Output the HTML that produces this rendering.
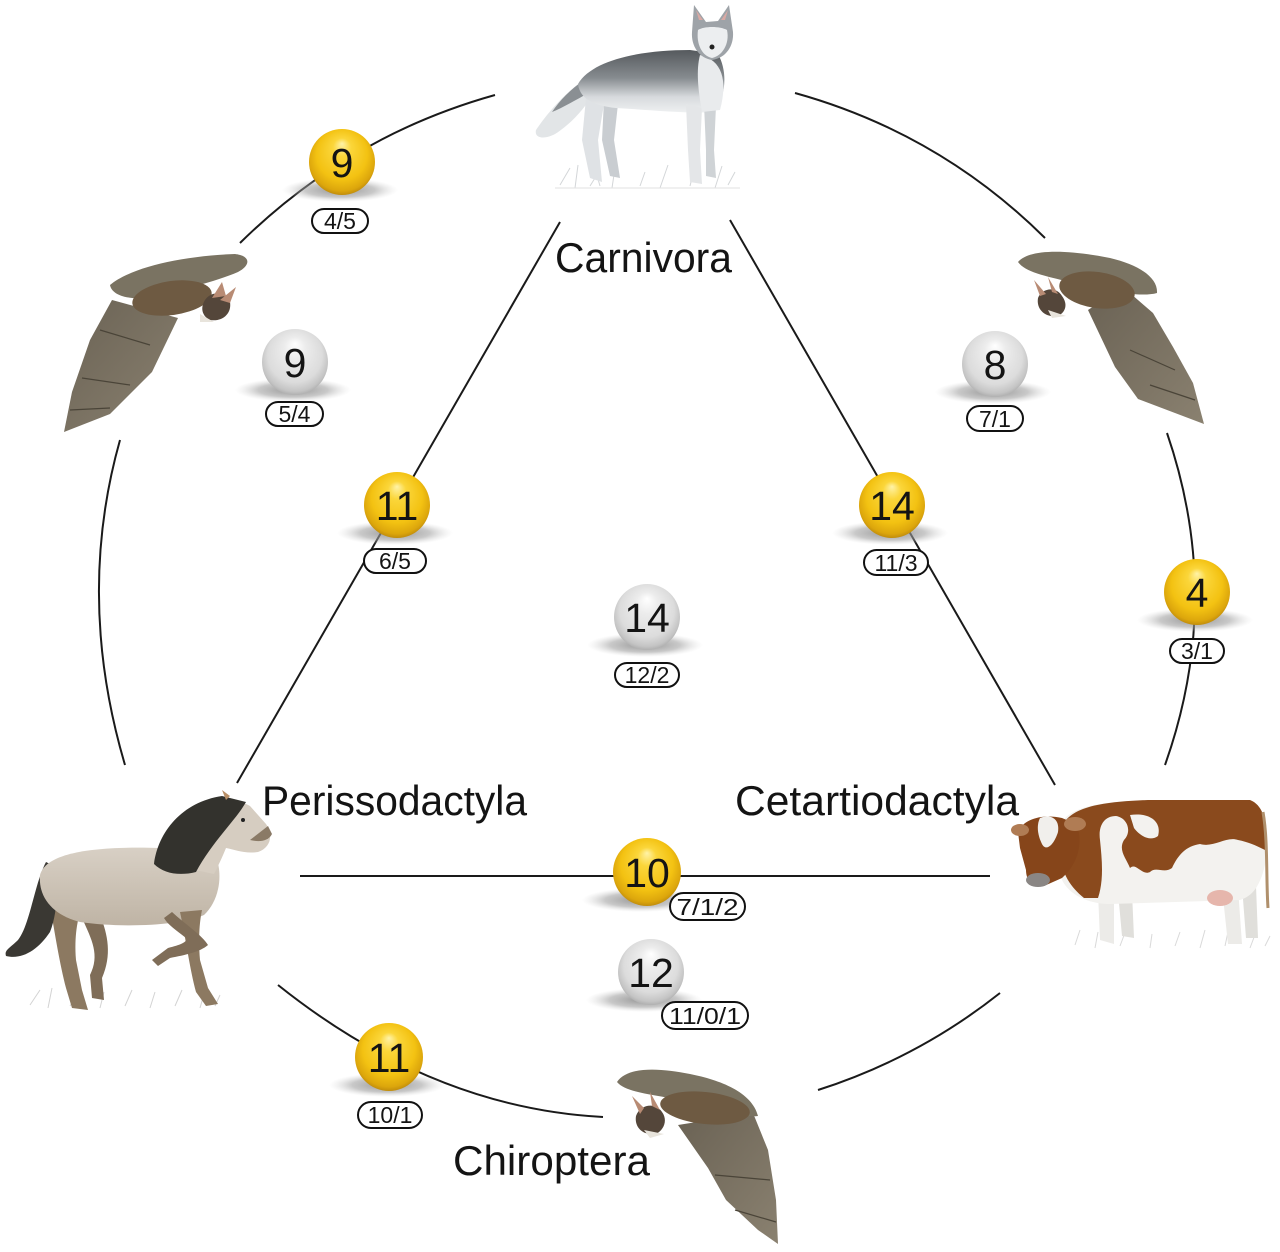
<!DOCTYPE html>
<html>
<head>
<meta charset="utf-8">
<style>
html,body{margin:0;padding:0;background:#fff;}
svg{display:block;}
text{font-family:"Liberation Sans","DejaVu Sans",sans-serif;fill:#141414;}
</style>
</head>
<body>
<svg width="1280" height="1252" viewBox="0 0 1280 1252" xmlns="http://www.w3.org/2000/svg">
<defs>
  <radialGradient id="gy" cx="50%" cy="45%" r="55%" fx="50%" fy="22%">
    <stop offset="0" stop-color="#fff3a8"/>
    <stop offset="0.25" stop-color="#fbd63a"/>
    <stop offset="0.7" stop-color="#f3c212"/>
    <stop offset="0.92" stop-color="#dca60c"/>
    <stop offset="1" stop-color="#c18d0c"/>
  </radialGradient>
  <radialGradient id="gg" cx="50%" cy="45%" r="55%" fx="50%" fy="22%">
    <stop offset="0" stop-color="#ffffff"/>
    <stop offset="0.3" stop-color="#ececec"/>
    <stop offset="0.75" stop-color="#dcdcdc"/>
    <stop offset="0.93" stop-color="#c4c4c4"/>
    <stop offset="1" stop-color="#b0b0b0"/>
  </radialGradient>
  <radialGradient id="sh" cx="50%" cy="50%" r="50%">
    <stop offset="0" stop-color="#808080" stop-opacity="0.85"/>
    <stop offset="0.6" stop-color="#9c9c9c" stop-opacity="0.55"/>
    <stop offset="1" stop-color="#cfcfcf" stop-opacity="0"/>
  </radialGradient>
  <linearGradient id="wolfBody" x1="0" y1="0" x2="0" y2="1">
    <stop offset="0" stop-color="#55595d"/>
    <stop offset="0.45" stop-color="#878c90"/>
    <stop offset="0.75" stop-color="#d7dadd"/>
    <stop offset="1" stop-color="#eef0f1"/>
  </linearGradient>
  <linearGradient id="wing" x1="0" y1="0" x2="1" y2="1">
    <stop offset="0" stop-color="#6a6254"/>
    <stop offset="1" stop-color="#8a8170"/>
  </linearGradient>
  <linearGradient id="horseBody" x1="0" y1="0" x2="0" y2="1">
    <stop offset="0" stop-color="#d8d0c5"/>
    <stop offset="1" stop-color="#bfb4a5"/>
  </linearGradient>
</defs>

<!-- ============ CONNECTOR LINES ============ -->
<g fill="none" stroke="#1a1a1a" stroke-width="2">
  <path d="M495,95 Q348.5,136 240,243"/>
  <path d="M795,93 Q939,133 1045,238"/>
  <path d="M120,440 Q75.5,597.5 125,765"/>
  <path d="M1167,433 Q1224,599 1165,765"/>
  <path d="M278,985 Q432,1108 603,1117"/>
  <path d="M1000,993 Q918,1058 818,1090"/>
  <path d="M560,222 L237,783"/>
  <path d="M730,220 L1055,785"/>
  <path d="M300,876 L990,876"/>
</g>

<!-- ============ ANIMALS ============ -->
<!-- Wolf -->
<g>
  <g stroke="#c9cccf" stroke-width="1" fill="none" opacity="0.8">
    <path d="M560,185 L570,168 M575,188 L578,165 M590,186 L600,170 M612,188 L615,168 M640,186 L645,172 M660,188 L668,165 M690,186 L694,170 M715,188 L722,166 M728,185 L735,172 M600,186 L596,172"/>
    <path d="M555,188 L740,188" stroke="#dcdcdc"/>
  </g>
  <!-- tail -->
  <path d="M584,80 C566,92 548,112 536,130 C534,138 544,140 555,134 C568,126 582,112 592,96 Z" fill="#e2e5e7"/>
  <path d="M584,80 C570,90 560,100 552,112 C562,108 576,100 590,92 Z" fill="#8a8f93"/>
  <!-- back legs -->
  <path d="M586,98 L582,140 L590,178 L602,182 L598,140 L604,104 Z" fill="#dfe2e5"/>
  <path d="M604,100 L602,140 L610,176 L620,178 L614,140 L618,104 Z" fill="#c9cdd1"/>
  <!-- body -->
  <path d="M578,84 C592,60 640,50 690,50 L718,54 C728,72 726,96 714,112 C690,114 650,110 616,108 C596,106 580,100 578,84 Z" fill="url(#wolfBody)"/>
  <!-- front legs -->
  <path d="M686,104 L688,150 L690,182 L702,184 L700,150 L702,108 Z" fill="#e4e6e8"/>
  <path d="M704,104 L706,150 L706,176 L716,178 L714,150 L716,106 Z" fill="#cfd3d6"/>
  <!-- chest -->
  <path d="M700,55 C722,60 728,80 720,110 L702,112 C698,90 696,70 700,55 Z" fill="#e9ebed"/>
  <!-- head -->
  <path d="M692,32 L694,5 L706,22 L718,21 L729,5 L733,32 C734,46 726,58 712,60 C699,58 691,46 692,32 Z" fill="#9ea3a8"/>
  <path d="M698,30 C704,26 720,26 727,30 C730,44 722,56 712,58 C702,56 696,44 698,30 Z" fill="#eceef0"/>
  <path d="M696,10 L699,20 L703,20 Z M728,10 L725,20 L721,20 Z" fill="#d9a9a4"/>
  <circle cx="712" cy="47" r="2.5" fill="#222"/>
</g>

<!-- Top-left bat -->
<g>
  <path d="M112,300 L178,318 L152,372 L110,414 L64,432 L72,392 L90,340 Z" fill="url(#wing)"/>
  <path d="M100,330 L150,345 M82,378 L130,385 M70,410 L110,408" stroke="#4a4438" stroke-width="1.2" fill="none"/>
  <path d="M110,285 C130,268 180,256 235,254 C252,256 250,266 238,272 C215,282 180,290 150,298 C130,300 112,296 110,285 Z" fill="#7a7362"/>
  <ellipse cx="172" cy="298" rx="40" ry="17" transform="rotate(-8 172 298)" fill="#6e5a42"/>
  <path d="M205,300 C212,290 226,292 230,302 C232,314 222,322 210,320 C202,316 200,308 205,300 Z" fill="#54463a"/>
  <path d="M212,298 L222,282 L226,296 Z M220,300 L236,287 L230,303 Z" fill="#b88b74"/>
  <path d="M200,314 L214,322 L200,322 Z" fill="#e8e4dc"/>
</g>

<!-- Top-right bat -->
<g>
  <path d="M1088,310 L1123,287 L1153,313 L1173,347 L1193,383 L1204,424 L1138,399 L1115,367 Z" fill="url(#wing)"/>
  <path d="M1130,350 L1175,370 M1150,385 L1195,400" stroke="#4a4438" stroke-width="1.2" fill="none"/>
  <path d="M1018,262 C1030,248 1070,250 1110,258 C1140,265 1158,278 1157,293 C1140,298 1100,290 1070,282 C1045,276 1025,272 1018,262 Z" fill="#7a7362"/>
  <ellipse cx="1097" cy="290" rx="38" ry="18" transform="rotate(8 1097 290)" fill="#6e5a42"/>
  <path d="M1062,296 C1056,286 1042,288 1038,298 C1036,310 1046,318 1058,316 C1066,312 1068,304 1062,296 Z" fill="#54463a"/>
  <path d="M1046,294 L1034,280 L1040,296 Z M1052,292 L1048,277 L1058,294 Z" fill="#b88b74"/>
  <path d="M1048,310 L1066,316 L1052,318 Z" fill="#e8e4dc"/>
</g>

<!-- Horse -->
<g>
  <g stroke="#c8c8c8" stroke-width="1" fill="none" opacity="0.8">
    <path d="M30,1005 L40,990 M48,1008 L52,988 M70,1006 L80,990 M100,1008 L104,992 M125,1006 L132,990 M150,1008 L155,992 M175,1006 L182,990 M200,1008 L204,994 M215,1006 L220,995"/>
  </g>
  <!-- far hind leg -->
  <path d="M82,918 C92,940 100,955 90,975 L92,998 L104,1000 L102,978 C112,955 108,935 100,915 Z" fill="#7f6d58"/>
  <!-- near hind leg -->
  <path d="M50,905 C55,935 60,965 66,988 L72,1008 L88,1010 L82,990 L76,960 C74,935 78,920 80,912 Z" fill="#8c7961"/>
  <!-- tail -->
  <path d="M46,862 C34,885 30,925 18,940 C10,948 4,950 6,956 C22,960 38,950 50,932 C58,912 58,885 54,866 Z" fill="#3a3833"/>
  <!-- body -->
  <path d="M40,875 C46,852 96,846 160,848 L214,852 C224,872 220,900 204,915 C180,926 120,928 80,922 C56,916 38,900 40,875 Z" fill="url(#horseBody)"/>
  <!-- front legs -->
  <path d="M180,912 C186,940 190,970 196,992 L206,1006 L218,1004 L208,988 L200,960 C198,935 200,920 202,910 Z" fill="#8c7961"/>
  <path d="M172,912 C186,925 202,935 208,945 C200,952 185,955 170,958 L158,966 L152,960 L168,948 C180,945 188,942 186,938 C176,930 168,925 164,918 Z" fill="#7f6d58"/>
  <!-- neck/head -->
  <path d="M158,862 C170,840 190,818 206,808 C218,800 236,798 250,806 L266,824 C274,836 270,848 258,852 C245,854 236,850 226,848 C222,858 218,866 214,874 Z" fill="#d6cdc1"/>
  <path d="M250,840 C258,842 268,842 272,834 L268,826 Z" fill="#8a7a66"/>
  <!-- mane -->
  <path d="M154,864 C158,832 182,802 222,796 L246,802 C236,820 212,842 196,872 C180,876 164,874 154,864 Z" fill="#33322d"/>
  <path d="M226,800 L222,790 L230,796 Z" fill="#b98f66"/>
  <circle cx="243" cy="820" r="2" fill="#222"/>
</g>

<!-- Cow -->
<g>
  <g stroke="#cfcfcf" stroke-width="1" fill="none" opacity="0.8">
    <path d="M1075,945 L1080,930 M1095,948 L1098,932 M1120,946 L1126,930 M1150,948 L1152,934 M1175,946 L1180,932 M1200,948 L1205,930 M1225,946 L1228,932 M1250,948 L1256,932 M1265,946 L1270,936"/>
  </g>
  <path d="M1098,892 L1100,940 L1114,944 L1114,892 Z" fill="#ecebe8"/>
  <path d="M1118,892 L1122,936 L1134,938 L1132,892 Z" fill="#e0dfdb"/>
  <path d="M1222,888 L1228,944 L1242,944 L1238,888 Z" fill="#ecebe8"/>
  <path d="M1242,886 L1246,938 L1258,938 L1256,886 Z" fill="#e0dfdb"/>
  <path d="M1058,832 C1062,808 1092,802 1150,800 L1250,800 C1266,806 1270,832 1266,860 C1262,880 1256,895 1240,900 L1110,904 C1090,904 1070,896 1062,880 Z" fill="#f3f2ef"/>
  <path d="M1060,832 C1066,808 1096,802 1148,800 L1250,800 C1266,806 1268,830 1265,850 C1255,845 1248,842 1238,840 C1226,836 1214,848 1200,844 C1186,846 1178,855 1172,868 C1164,874 1156,866 1150,872 C1142,876 1136,862 1130,868 C1126,858 1118,850 1124,840 C1132,832 1128,818 1116,816 C1104,816 1098,826 1100,840 C1102,860 1104,880 1098,898 L1084,898 C1074,890 1066,880 1062,866 Z" fill="#8a4a1d"/>
  <path d="M1130,815 C1150,812 1162,822 1158,836 C1150,842 1140,836 1134,828 Z" fill="#f3f2ef"/>
  <ellipse cx="1220" cy="898" rx="13" ry="8" fill="#e6b6ac"/>
  <path d="M1263,812 C1268,840 1266,880 1268,908" stroke="#b0906c" stroke-width="3" fill="none"/>
  <path d="M1018,832 C1024,818 1044,814 1062,818 L1076,824 C1084,842 1078,864 1062,878 L1044,886 C1032,888 1026,880 1026,870 L1020,848 Z" fill="#86451a"/>
  <path d="M1040,818 C1050,814 1060,818 1058,832 C1054,845 1046,852 1042,844 C1038,836 1036,826 1040,818 Z" fill="#f1efec"/>
  <ellipse cx="1038" cy="880" rx="12" ry="7" fill="#8a8684"/>
  <ellipse cx="1020" cy="830" rx="9" ry="6" fill="#b07c54"/>
  <ellipse cx="1075" cy="824" rx="11" ry="7" fill="#b07c54"/>
</g>

<!-- Bottom bat -->
<g>
  <path d="M678,1125 L753,1113 L768,1150 L776,1200 L778,1244 L758,1230 L726,1200 L708,1168 Z" fill="url(#wing)"/>
  <path d="M715,1175 L770,1180 M735,1210 L776,1222" stroke="#4a4438" stroke-width="1.2" fill="none"/>
  <path d="M617,1082 C628,1066 660,1068 690,1074 C720,1080 752,1092 758,1116 C740,1118 710,1108 680,1100 C650,1094 625,1092 617,1082 Z" fill="#7a7362"/>
  <ellipse cx="705" cy="1108" rx="45" ry="16" transform="rotate(6 705 1108)" fill="#6e5a42"/>
  <path d="M662,1112 C656,1102 640,1104 636,1116 C634,1128 644,1136 656,1134 C664,1130 668,1120 662,1112 Z" fill="#54463a"/>
  <path d="M644,1108 L632,1096 L640,1114 Z M652,1106 L650,1092 L660,1110 Z" fill="#b88b74"/>
  <path d="M644,1130 L664,1134 L650,1138 Z" fill="#e8e4dc"/>
</g>

<!-- ============ LABELS ============ -->
<text x="555" y="272" font-size="42" textLength="177" lengthAdjust="spacingAndGlyphs">Carnivora</text>
<text x="262" y="815" font-size="42" textLength="265" lengthAdjust="spacingAndGlyphs">Perissodactyla</text>
<text x="735" y="815" font-size="42" textLength="284" lengthAdjust="spacingAndGlyphs">Cetartiodactyla</text>
<text x="453" y="1175" font-size="42" textLength="197" lengthAdjust="spacingAndGlyphs">Chiroptera</text>

<!-- ============ BALL SHADOWS ============ -->
<g fill="url(#sh)">
  <ellipse cx="340" cy="190" rx="58" ry="12"/>
  <ellipse cx="293" cy="390" rx="58" ry="12"/>
  <ellipse cx="395" cy="533" rx="58" ry="12"/>
  <ellipse cx="890" cy="533" rx="58" ry="12"/>
  <ellipse cx="993" cy="392" rx="58" ry="12"/>
  <ellipse cx="1195" cy="620" rx="58" ry="12"/>
  <ellipse cx="645" cy="645" rx="58" ry="12"/>
  <ellipse cx="640" cy="900" rx="58" ry="12"/>
  <ellipse cx="644" cy="1000" rx="58" ry="12"/>
  <ellipse cx="387" cy="1085" rx="58" ry="12"/>
</g>

<!-- ============ BALLS ============ -->
<g>
  <circle cx="342" cy="162" r="33" fill="url(#gy)"/>
  <circle cx="295" cy="362" r="33" fill="url(#gg)"/>
  <circle cx="397" cy="505" r="33" fill="url(#gy)"/>
  <circle cx="892" cy="505" r="33" fill="url(#gy)"/>
  <circle cx="995" cy="364" r="33" fill="url(#gg)"/>
  <circle cx="1197" cy="592" r="33" fill="url(#gy)"/>
  <circle cx="647" cy="617" r="33" fill="url(#gg)"/>
  <circle cx="647" cy="872" r="34" fill="url(#gy)"/>
  <circle cx="651" cy="972" r="33" fill="url(#gg)"/>
  <circle cx="389" cy="1057" r="34" fill="url(#gy)"/>
</g>
<g font-size="41" text-anchor="middle">
  <text x="342" y="177">9</text>
  <text x="295" y="377">9</text>
  <text x="397" y="520">11</text>
  <text x="892" y="520">14</text>
  <text x="995" y="379">8</text>
  <text x="1197" y="607">4</text>
  <text x="647" y="632">14</text>
  <text x="647" y="887">10</text>
  <text x="651" y="987">12</text>
  <text x="389" y="1072">11</text>
</g>

<!-- ============ PILLS ============ -->
<g fill="#fff" stroke="#111" stroke-width="2">
  <rect x="312" y="209" width="56" height="24" rx="12"/>
  <rect x="266" y="402" width="57" height="24" rx="12"/>
  <rect x="364" y="549" width="62" height="24" rx="12"/>
  <rect x="864" y="550" width="64" height="25" rx="12.5"/>
  <rect x="967" y="406" width="56" height="25" rx="12.5"/>
  <rect x="1170" y="639" width="54" height="24" rx="12"/>
  <rect x="615" y="663" width="64" height="24" rx="12"/>
  <rect x="670" y="893" width="75" height="27" rx="13.5"/>
  <rect x="662" y="1002" width="86" height="27" rx="13.5"/>
  <rect x="358" y="1102" width="64" height="26" rx="13"/>
</g>
<g font-size="23" text-anchor="middle">
  <text x="340" y="229">4/5</text>
  <text x="294.5" y="422">5/4</text>
  <text x="395" y="569">6/5</text>
  <text x="896" y="571">11/3</text>
  <text x="995" y="427">7/1</text>
  <text x="1197" y="659">3/1</text>
  <text x="647" y="683">12/2</text>
  <text x="707.5" y="915" textLength="62" lengthAdjust="spacingAndGlyphs">7/1/2</text>
  <text x="705" y="1024" textLength="72" lengthAdjust="spacingAndGlyphs">11/0/1</text>
  <text x="390" y="1123">10/1</text>
</g>
</svg>
</body>
</html>
